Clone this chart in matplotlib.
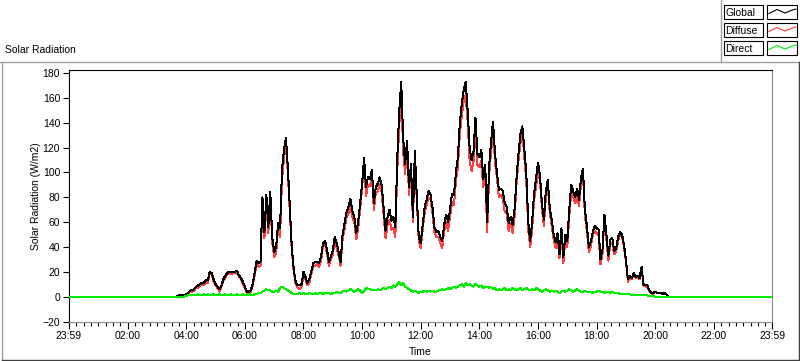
#!/usr/bin/env python3
"""
Solar radiation over one day (LabVIEW style chart)
"""

import numpy as np
import matplotlib
matplotlib.use('Agg')
import matplotlib.pyplot as plt
from matplotlib.lines import Line2D
from matplotlib.patches import Rectangle

# Time axis, minutes after midnight
DAY_START = -1      # 23:59 of the previous day
DAY_END = 1439      # 23:59
SAMPLE_START = 220  # 03:40
SAMPLE_STEP = 4     # minutes between samples
NIGHT_VALUE = 0

# Global radiation (W/m2), one value every 4 min from 03:40 to 20:44
global_rad = [
    0, 1, 1, 1, 1, 2, 3, 5, 5, 6,
    8, 9, 10, 11, 11, 13, 13, 20, 19, 14,
    10, 8, 6, 9, 14, 17, 19, 20, 20, 20,
    20, 21, 17, 15, 12, 8, 4, 4, 5, 10,
    19, 29, 27, 28, 80, 52, 82, 56, 84, 48,
    36, 40, 59, 55, 102, 118, 128, 104, 72, 40,
    22, 12, 9, 9, 10, 20, 16, 11, 14, 20,
    27, 28, 28, 27, 32, 43, 45, 38, 28, 32,
    37, 48, 43, 36, 28, 50, 59, 68, 72, 79,
    69, 64, 51, 61, 75, 91, 112, 88, 96, 95,
    102, 75, 88, 91, 96, 90, 72, 53, 64, 70,
    61, 64, 56, 112, 149, 173, 128, 107, 125, 88,
    107, 64, 117, 80, 48, 43, 58, 72, 78, 85,
    82, 72, 56, 52, 53, 48, 45, 58, 66, 60,
    70, 83, 82, 100, 112, 140, 155, 166, 173, 150,
    120, 110, 117, 144, 115, 112, 118, 95, 106, 60,
    105, 125, 141, 115, 100, 86, 87, 85, 75, 72,
    59, 64, 58, 70, 95, 115, 131, 137, 118, 100,
    60, 45, 60, 83, 95, 108, 98, 75, 62, 85,
    94, 72, 62, 50, 44, 51, 34, 55, 32, 50,
    45, 70, 90, 85, 80, 87, 78, 95, 103, 70,
    57, 40, 44, 52, 57, 55, 54, 30, 38, 66,
    50, 33, 46, 47, 37, 39, 48, 52, 50, 42,
    30, 14, 17, 15, 19, 16, 17, 15, 24, 10,
    9, 9, 5, 3, 3, 4, 3, 3, 3, 2,
    3, 1, 0, 0, 0, 0, 0,
]

diffuse_rad = [
    0, 1, 1, 1, 1, 1.5, 2, 4, 4, 5,
    7, 7, 9, 10, 9, 12, 11, 19, 18, 12,
    9, 7, 4, 8, 13, 15, 18, 19, 18, 19,
    19, 19, 16, 14, 10, 7, 3, 2, 4, 9,
    17, 27, 24, 25, 76, 47, 76, 51, 79, 44,
    32, 35, 55, 48, 94, 111, 122, 99, 68, 37,
    20, 10, 7, 6, 8, 17, 14, 9, 11, 18,
    25, 25, 26, 24, 29, 41, 42, 35, 25, 30,
    34, 45, 39, 33, 25, 46, 54, 64, 67, 73,
    64, 60, 46, 55, 70, 88, 108, 81, 90, 89,
    97, 70, 83, 85, 91, 84, 65, 47, 57, 62,
    54, 55, 48, 102, 137, 164, 117, 99, 118, 82,
    102, 60, 112, 76, 45, 39, 54, 67, 74, 80,
    78, 67, 52, 48, 48, 43, 39, 53, 60, 53,
    64, 76, 74, 93, 104, 131, 145, 158, 162, 141,
    110, 101, 109, 134, 106, 104, 109, 88, 98, 52,
    98, 117, 135, 108, 95, 80, 82, 79, 68, 67,
    53, 59, 51, 64, 90, 109, 124, 132, 112, 93,
    54, 40, 54, 78, 88, 102, 93, 71, 57, 79,
    89, 68, 57, 46, 39, 47, 31, 51, 27, 46,
    40, 64, 85, 81, 75, 81, 73, 91, 99, 65,
    53, 36, 40, 49, 53, 51, 49, 26, 34, 63,
    46, 29, 43, 43, 34, 36, 45, 50, 48, 40,
    28, 12, 15, 14, 18, 15, 16, 14, 23, 9,
    8, 8, 4.5, 2.5, 2.5, 4, 3, 3, 3, 2,
    3, 1, 0, 0, 0, 0, 0,
]

direct_rad = [
    0, 0, 0, 0, 0, 0.5, 1, 1, 1, 1,
    1, 2, 1, 1, 2, 1, 2, 1, 1, 2,
    1, 1, 2, 1, 1, 2, 1, 1, 2, 1,
    1, 2, 1, 1, 2, 1, 1, 2, 1, 1,
    2, 2, 3, 3, 4, 5, 6, 5, 5, 4,
    4, 5, 4, 7, 8, 7, 6, 5, 4, 3,
    2, 2, 2, 3, 2, 3, 2, 2, 3, 2,
    2, 3, 2, 3, 3, 2, 3, 3, 3, 2,
    3, 3, 4, 3, 3, 4, 5, 4, 5, 6,
    5, 4, 5, 6, 5, 3, 4, 7, 6, 6,
    5, 5, 5, 6, 5, 6, 7, 6, 7, 8,
    7, 9, 8, 10, 12, 9, 11, 8, 7, 6,
    5, 4, 5, 4, 3, 4, 4, 5, 4, 5,
    4, 5, 4, 4, 5, 5, 6, 5, 6, 7,
    6, 7, 8, 7, 8, 9, 10, 8, 11, 9,
    10, 9, 8, 10, 9, 8, 9, 7, 8, 8,
    7, 8, 6, 7, 5, 6, 5, 6, 7, 5,
    6, 5, 7, 6, 5, 6, 7, 5, 6, 7,
    6, 5, 6, 5, 7, 6, 5, 4, 5, 6,
    5, 4, 5, 4, 5, 4, 3, 4, 5, 4,
    5, 6, 5, 4, 5, 6, 5, 4, 4, 5,
    4, 4, 4, 3, 4, 4, 5, 4, 4, 3,
    4, 4, 3, 4, 3, 3, 3, 2, 2, 2,
    2, 2, 2, 1, 1, 1, 1, 1, 1, 1,
    1, 1, 0.5, 0.5, 0.5, 0, 0, 0, 0, 0,
    0, 0, 0, 0, 0, 0, 0,
]

major_tick_minutes = [-1, 120, 240, 360, 480, 600, 720, 840, 960, 1080, 1200, 1320, 1439]
major_tick_labels = ['23:59', '02:00', '04:00', '06:00', '08:00', '10:00', '12:00',
                     '14:00', '16:00', '18:00', '20:00', '22:00', '23:59']
y_ticks = [-20, 0, 20, 40, 60, 80, 100, 120, 140, 160, 180]

series_names = ['Global', 'Diffuse', 'Direct']
series_colors = ['black', '#ff4040', '#00ee00']

W, H = 800, 361
FS = 7.5
LW = 0.72  # one pixel at 100 dpi
plt.rcParams['font.family'] = ['Liberation Sans', 'DejaVu Sans']


def fx(x):
    return x / W


def fy(y):
    return 1 - y / H


def with_night(values):
    times = SAMPLE_START + SAMPLE_STEP * np.arange(len(values))
    t = np.concatenate(([DAY_START], times, [DAY_END]))
    v = np.concatenate(([NIGHT_VALUE], values, [NIGHT_VALUE]))
    return t, v


fig = plt.figure(figsize=(W / 100, H / 100), dpi=100)
fig.patch.set_facecolor('white')

ax = fig.add_axes([fx(68.5), fy(321.5), fx(772) - fx(68.5), fy(70) - fy(321.5)])

# LabVIEW draws crisp 1 px lines
t, v = with_night(diffuse_rad)
ax.plot(t, v, color=series_colors[1], lw=LW, antialiased=False, zorder=2)
t, v = with_night(global_rad)
ax.plot(t, v, color=series_colors[0], lw=LW, antialiased=False, zorder=3)
t, v = with_night(direct_rad)
ax.plot(t, v, color=series_colors[2], lw=LW, antialiased=False, zorder=4)

ax.set_xlim(DAY_START, DAY_END)
ax.set_ylim(-20, 182.4)
ax.set_xticks(major_tick_minutes)
ax.set_xticklabels(major_tick_labels)
ax.set_xticks(np.arange(0, 1440, 15), minor=True)
ax.set_yticks(y_ticks)

ax.tick_params(axis='both', which='major', direction='out', length=5, width=0.8,
               labelsize=FS, pad=2, color='black')
ax.tick_params(axis='x', which='minor', direction='out', length=3, width=0.8, color='black')
ax.tick_params(axis='y', which='major', length=4, pad=2)

for side in ['left', 'top']:
    ax.spines[side].set_color('black')
    ax.spines[side].set_linewidth(0.8)
for side in ['right', 'bottom']:
    ax.spines[side].set_color('#8c8c8c')
    ax.spines[side].set_linewidth(0.8)

fig.text(fx(36), fy(196), 'Solar Radiation (W/m2)', rotation=90, ha='center', va='center', fontsize=FS)
fig.text(fx(420), fy(352), 'Time', ha='center', va='center', fontsize=FS)
fig.text(fx(5), fy(50), 'Solar Radiation', ha='left', va='center', fontsize=FS)

# outer frame
frame = dict(transform=fig.transFigure, lw=1.0)
fig.add_artist(Line2D([fx(0), fx(800)], [fy(61.5), fy(61.5)], color='#a0a0a0', **frame))
fig.add_artist(Line2D([fx(1.5), fx(1.5)], [fy(61.5), fy(359.5)], color='#a0a0a0', **frame))
fig.add_artist(Line2D([fx(1.5), fx(800)], [fy(359.5), fy(359.5)], color='#404040', **frame))
fig.add_artist(Line2D([fx(798.5), fx(798.5)], [fy(61.5), fy(359.5)], color='#404040', **frame))

# legend panel
fig.add_artist(Line2D([fx(720.5), fx(720.5)], [fy(0), fy(61.5)], color='#a0a0a0', **frame))
zig_x = [2, 10, 18, 24, 29]
zig_y = [8.5, 4.5, 8, 5.5, 4]
for i, (name, col) in enumerate(zip(series_names, series_colors)):
    top = 5 + 18 * i
    fig.add_artist(Rectangle((fx(723.5), fy(top + 14)), fx(763) - fx(723.5), fy(top) - fy(top + 14),
                             transform=fig.transFigure, facecolor='white', edgecolor='black', lw=0.8))
    fig.add_artist(Rectangle((fx(767), fy(top + 14)), fx(797) - fx(767), fy(top) - fy(top + 14),
                             transform=fig.transFigure, facecolor='white', edgecolor='black', lw=0.8))
    fig.text(fx(725.5), fy(top + 7.5), name, ha='left', va='center', fontsize=FS)
    fig.add_artist(Line2D([fx(767 + zx) for zx in zig_x], [fy(top + zy) for zy in zig_y],
                          transform=fig.transFigure, color=col, lw=0.8))

plt.savefig('out.png', dpi=100)
plt.close()
